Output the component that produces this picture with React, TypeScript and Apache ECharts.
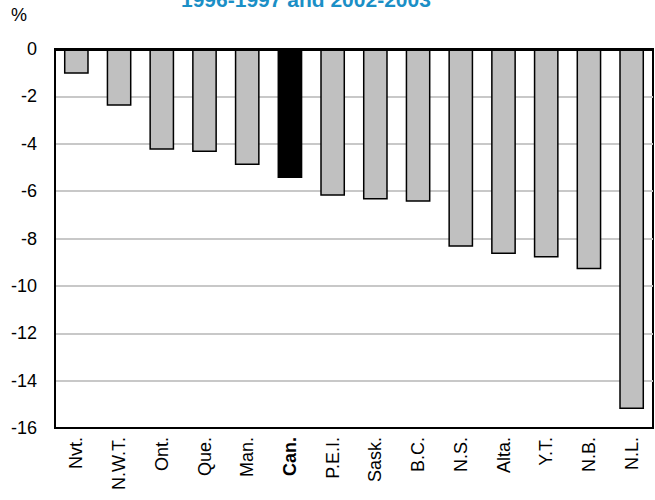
import React, { useEffect, useRef } from "react";
import * as echarts from "echarts";

const categories = ["Nvt.", "N.W.T.", "Ont.", "Que.", "Man.", "Can.", "P.E.I.", "Sask.", "B.C.", "N.S.", "Alta.", "Y.T.", "N.B.", "N.L."];
const values = [-1.05, -2.4, -4.25, -4.35, -4.9, -5.45, -6.2, -6.35, -6.45, -8.35, -8.65, -8.8, -9.3, -15.2];
const highlight = "Can.";
const titleText = "1996-1997 and 2002-2003";
const unitLabel = "%";

const NARROW = "'Liberation Sans Narrow', 'Arial Narrow', 'Liberation Sans', sans-serif";
const FONT = "'Liberation Sans', Arial, sans-serif";

export default function App() {
  const ref = useRef<HTMLDivElement>(null);
  useEffect(() => {
    if (!ref.current) return;
    const chart = echarts.init(ref.current, null, { renderer: "svg" });
    chart.setOption({
      animation: false,
      backgroundColor: "#ffffff",
      graphic: [
        {
          type: "text",
          left: 181,
          top: -11,
          style: { text: titleText, fill: "#1b8fc6", font: `bold 21px ${NARROW}` },
        },
        {
          type: "text",
          left: 11,
          top: 6,
          style: { text: unitLabel, fill: "#000", font: `18px ${FONT}` },
        },
      ],
      grid: {
        left: 55,
        right: 2,
        top: 49,
        bottom: 72,
        show: true,
        borderColor: "#000",
        borderWidth: 2,
        containLabel: false,
      },
      xAxis: {
        type: "category",
        data: categories,
        position: "bottom",
        axisLine: { onZero: false, show: true, lineStyle: { color: "#000", width: 2 } },
        axisTick: { show: false },
        axisLabel: {
          rotate: 90,
          interval: 0,
          margin: 9,
          color: "#000",
          fontFamily: FONT,
          fontSize: 18,
          formatter: (v: string) => (v === highlight ? `{b|${v}}` : v),
          rich: { b: { fontWeight: "bold", fontSize: 18, fontFamily: FONT, color: "#000" } },
        },
      },
      yAxis: {
        type: "value",
        min: -16,
        max: 0,
        interval: 2,
        axisLine: { show: true, lineStyle: { color: "#000", width: 2 } },
        axisTick: { show: false },
        axisLabel: { color: "#000", fontFamily: FONT, fontSize: 18, margin: 18 },
        splitLine: { show: true, lineStyle: { color: "#c8c8c8", width: 2 } },
      },
      series: [
        {
          type: "bar",
          data: values.map((v, i) => ({
            value: v,
            itemStyle: categories[i] === highlight ? { color: "#000", borderColor: "#000" } : undefined,
          })),
          barCategoryGap: "42%",
          itemStyle: { color: "#c0c0c0", borderColor: "#000", borderWidth: 1.5 },
        },
        {
          type: "line",
          data: [],
          markLine: {
            silent: true,
            symbol: "none",
            label: { show: false },
            lineStyle: { color: "#000", width: 3, type: "solid" },
            data: [{ yAxis: 0 }],
          },
        },
      ],
    });
    return () => chart.dispose();
  }, []);
  return <div ref={ref} style={{ width: 655, height: 500, position: "absolute", left: 0, top: 0 }} />;
}
